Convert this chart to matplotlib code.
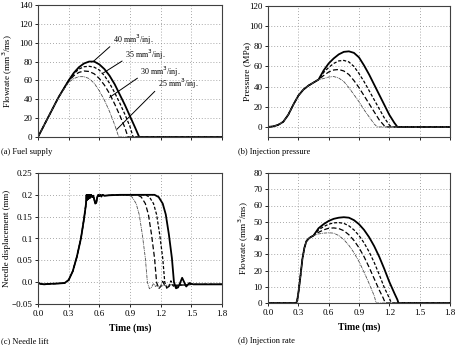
import matplotlib
matplotlib.use("Agg")
import matplotlib.pyplot as plt

plt.rcParams['font.family'] = ['Liberation Serif', 'DejaVu Serif']
plt.rcParams['font.size'] = 6

labels = ['40', '35', '30', '25']

# (a) fuel supply flowrate (mm3/ms)
fuel_t = {
    '40': [0, 0.1, 0.2, 0.3, 0.35, 0.4, 0.45, 0.5, 0.55, 0.6, 0.65, 0.7, 0.75, 0.8, 0.85, 0.9, 0.95, 0.99, 1.8],
    '35': [0, 0.1, 0.2, 0.3, 0.35, 0.4, 0.45, 0.5, 0.55, 0.6, 0.65, 0.7, 0.75, 0.8, 0.85, 0.9, 0.93, 1.8],
    '30': [0, 0.1, 0.2, 0.3, 0.35, 0.4, 0.45, 0.5, 0.55, 0.6, 0.65, 0.7, 0.75, 0.8, 0.85, 0.88, 1.8],
    '25': [0, 0.1, 0.2, 0.3, 0.35, 0.4, 0.45, 0.5, 0.55, 0.6, 0.65, 0.7, 0.75, 0.79, 1.8],
}
fuel_q = {
    '40': [0, 21, 42, 60, 68, 74, 78, 80, 80, 77, 72, 65, 56, 45, 34, 22, 10, 0, 0],
    '35': [0, 21, 42, 60, 67, 72, 74.5, 75, 74, 71, 65, 57, 47, 36, 24, 11, 0, 0],
    '30': [0, 21, 42, 59, 65, 68.5, 70, 69.5, 67, 62, 55, 46, 35, 23, 10, 0, 0],
    '25': [0, 21, 42, 58, 62, 64, 64, 62, 57, 49, 39, 27, 13, 0, 0],
}

# (b) injection pressure (MPa)
pres_common_t = [0, 0.05, 0.1, 0.15, 0.2, 0.25, 0.3, 0.35, 0.4, 0.45, 0.5]
pres_common_p = [0, 0.5, 2, 5, 12, 22, 31, 37, 41, 44, 47]
pres_t = {
    '40': [0.55, 0.6, 0.65, 0.7, 0.75, 0.8, 0.85, 0.9, 0.95, 1.0, 1.05, 1.1, 1.15, 1.2, 1.25, 1.28, 1.8],
    '35': [0.55, 0.6, 0.65, 0.7, 0.75, 0.8, 0.85, 0.9, 0.95, 1.0, 1.05, 1.1, 1.15, 1.2, 1.22, 1.8],
    '30': [0.55, 0.6, 0.65, 0.7, 0.75, 0.8, 0.85, 0.9, 0.95, 1.0, 1.05, 1.1, 1.16, 1.8],
    '25': [0.55, 0.6, 0.65, 0.7, 0.75, 0.8, 0.85, 0.9, 0.95, 1.0, 1.05, 1.08, 1.8],
}
pres_p = {
    '40': [56, 63, 68, 72, 74.5, 75, 73.5, 69, 61, 52, 42, 32, 22, 12, 4, 0, 0],
    '35': [54, 59, 63, 65.5, 66, 64.5, 60, 53, 45, 36, 27, 18, 9, 2, 0, 0],
    '30': [51, 54.5, 56.5, 57, 55.5, 52, 46, 39, 31, 23, 15, 7, 0, 0],
    '25': [48, 49.5, 50, 48.5, 45, 39, 32, 25, 17, 10, 3, 0, 0],
}

# (c) needle displacement (mm)
lift_common_t = [0, 0.03, 0.06, 0.1, 0.2, 0.26, 0.3, 0.34, 0.38, 0.42, 0.45, 0.47, 0.475, 0.48, 0.485,
                 0.49, 0.495, 0.5, 0.505, 0.51, 0.52, 0.53, 0.54, 0.55, 0.56, 0.57, 0.58, 0.59, 0.6,
                 0.61, 0.62, 0.63, 0.65, 0.7, 0.8]
lift_common_h = [-0.002, -0.004, -0.005, -0.004, -0.003, -0.002, 0.005, 0.025, 0.058, 0.1, 0.145, 0.18,
                 0.2, 0.188, 0.2, 0.19, 0.2, 0.192, 0.2, 0.193, 0.2, 0.195, 0.198, 0.19, 0.18, 0.182,
                 0.195, 0.2, 0.197, 0.2, 0.196, 0.2, 0.198, 0.199, 0.2]
lift_t = {
    '40': [1.14, 1.18, 1.22, 1.25, 1.28, 1.31, 1.33, 1.35, 1.37, 1.39, 1.41, 1.43, 1.45, 1.48, 1.52, 1.8],
    '35': [1.05, 1.09, 1.13, 1.16, 1.19, 1.22, 1.24, 1.26, 1.28, 1.3, 1.32, 1.35, 1.38, 1.42, 1.5, 1.8],
    '30': [0.97, 1.01, 1.05, 1.08, 1.11, 1.14, 1.16, 1.18, 1.2, 1.22, 1.24, 1.27, 1.3, 1.35, 1.5, 1.8],
    '25': [0.88, 0.92, 0.96, 0.99, 1.02, 1.05, 1.07, 1.09, 1.11, 1.13, 1.15, 1.17, 1.19, 1.22, 1.3, 1.8],
}
lift_h = {
    '40': [0.2, 0.195, 0.18, 0.155, 0.11, 0.055, 0.0, -0.014, -0.012, -0.002, 0.01, 0.0, -0.01, -0.002, -0.005, -0.005],
    '35': [0.2, 0.195, 0.18, 0.155, 0.11, 0.055, 0.0, -0.014, -0.01, 0.003, -0.008, -0.012, -0.004, -0.007, -0.005, -0.005],
    '30': [0.2, 0.195, 0.18, 0.155, 0.11, 0.055, 0.0, -0.015, -0.01, 0.002, -0.008, -0.012, -0.005, -0.008, -0.005, -0.005],
    '25': [0.2, 0.195, 0.18, 0.155, 0.11, 0.055, 0.0, -0.015, -0.012, -0.003, -0.01, -0.006, -0.012, -0.008, -0.006, -0.005],
}

# (d) injection rate (mm3/ms)
rate_common_t = [0, 0.28, 0.29, 0.3, 0.32, 0.34, 0.36, 0.38, 0.4, 0.42, 0.45]
rate_common_q = [0, 0, 2, 6, 16, 27, 34, 38, 39.5, 40.5, 41.5]
rate_t = {
    '40': [0.5, 0.55, 0.6, 0.65, 0.7, 0.75, 0.8, 0.85, 0.9, 0.95, 1.0, 1.05, 1.1, 1.15, 1.2, 1.25, 1.28, 1.29, 1.8],
    '35': [0.5, 0.55, 0.6, 0.65, 0.7, 0.75, 0.8, 0.85, 0.9, 0.95, 1.0, 1.05, 1.1, 1.15, 1.2, 1.22, 1.8],
    '30': [0.5, 0.55, 0.6, 0.65, 0.7, 0.75, 0.8, 0.85, 0.9, 0.95, 1.0, 1.05, 1.1, 1.14, 1.16, 1.8],
    '25': [0.5, 0.55, 0.6, 0.65, 0.7, 0.75, 0.8, 0.85, 0.9, 0.95, 1.0, 1.05, 1.07, 1.8],
}
rate_q = {
    '40': [46, 48.5, 50.5, 51.8, 52.5, 52.8, 52.5, 51, 48.5, 45, 40.5, 35, 28.5, 21, 13, 6, 2, 0, 0],
    '35': [45, 47, 48.5, 49.3, 49.5, 49, 47.5, 45, 41.5, 37, 31.5, 25, 17.5, 9.5, 3, 0, 0],
    '30': [43.5, 45, 46, 46.2, 45.8, 44.5, 42, 38.5, 34, 28.5, 22, 15, 8, 3, 0, 0],
    '25': [42.5, 43, 43.2, 43, 41.5, 39, 35.5, 31, 25.5, 19, 12, 4.5, 0, 0],
}

styles = {
    '40': dict(color='black', lw=1.3, ls='-'),
    '35': dict(color='black', lw=0.9, ls=(0, (2.5, 1.5))),
    '30': dict(color='black', lw=0.9, ls=(0, (4, 2))),
    '25': dict(color='0.3', lw=0.6, ls=(0, (4, 1, 1, 1))),
}

fig = plt.figure(figsize=(4.55, 3.45), dpi=100)
ax_a = fig.add_axes([38/455, 1 - 137/345, 184/455, 132/345])
ax_b = fig.add_axes([268/455, 1 - 137/345, 182/455, 131/345])
ax_c = fig.add_axes([38/455, 1 - 304/345, 184/455, 131/345])
ax_d = fig.add_axes([268/455, 1 - 303/345, 182/455, 130/345])

for k in labels:
    ax_a.plot(fuel_t[k], fuel_q[k], **styles[k])
    ax_b.plot(pres_common_t + pres_t[k], pres_common_p + pres_p[k], **styles[k])
    if k != '40':
        ax_c.plot(lift_common_t + lift_t[k], lift_common_h + lift_h[k], **styles[k])
    ax_d.plot(rate_common_t + rate_t[k], rate_common_q + rate_q[k], **styles[k])
ax_c.plot(lift_common_t + lift_t['40'], lift_common_h + lift_h['40'], color='black', lw=1.3)

xt = [0, 0.3, 0.6, 0.9, 1.2, 1.5, 1.8]
for ax in (ax_a, ax_b, ax_c, ax_d):
    ax.set_xlim(0, 1.8)
    ax.set_xticks(xt)
    ax.grid(True, color='0.55', ls=(0, (1, 2.5)), lw=0.6)
    ax.tick_params(direction='out', length=2.5, width=0.6, labelsize=6.5, pad=1.5)
    for s in ax.spines.values():
        s.set_linewidth(0.8)
        s.set_color('0.25')

for ax in (ax_a, ax_b):
    ax.set_xticklabels([])
for ax in (ax_c, ax_d):
    ax.set_xticklabels(['0.0', '0.3', '0.6', '0.9', '1.2', '1.5', '1.8'])
    ax.set_xlabel('Time (ms)', fontsize=7, fontweight='bold', labelpad=4)

ax_a.set_ylim(0, 140)
ax_a.set_yticks(range(0, 141, 20))
ax_a.set_ylabel('Flowrate (mm$^3$/ms)', fontsize=6.6)

ax_b.set_ylim(-10, 120)
ax_b.set_yticks(range(0, 121, 20))
ax_b.set_ylabel('Pressure (MPa)', fontsize=6.8)

ax_c.set_ylim(-0.05, 0.25)
ax_c.set_yticks([-0.05, 0, 0.05, 0.1, 0.15, 0.2, 0.25])
ax_c.set_yticklabels(['\u22120.05', '0.0', '0.05', '0.1', '0.15', '0.2', '0.25'])
ax_c.set_ylabel('Needle displacement (mm)', fontsize=6.5)

ax_d.set_ylim(0, 80)
ax_d.set_yticks(range(0, 81, 10))
ax_d.set_ylabel('Flowrate (mm$^3$/ms)', fontsize=6.6)

ax_a.yaxis.set_label_coords(-0.125, 0.5)
ax_c.yaxis.set_label_coords(-0.145, 0.5)
ax_b.yaxis.set_label_coords(-0.095, 0.5)
ax_d.yaxis.set_label_coords(-0.095, 0.5)

# volume labels on (a)
notes = [('40 mm$^3$/inj.', (0.54, 80), (0.73, 103)),
         ('35 mm$^3$/inj.', (0.64, 68), (0.85, 87)),
         ('30 mm$^3$/inj.', (0.70, 42), (1.0, 69)),
         ('25 mm$^3$/inj.', (0.77, 8), (1.17, 56))]
for txt, xy, xytext in notes:
    ax_a.annotate(txt, xy=xy, xytext=xytext, fontsize=5.8, ha='left', va='center',
                  arrowprops=dict(arrowstyle='-', lw=0.7, color='black', shrinkA=0, shrinkB=0,
                                  relpos=(0, 0.2)))

fig.text(1/455, 1 - 152/345, '(a) Fuel supply', fontsize=6, va='center')
fig.text(238/455, 1 - 152/345, '(b) Injection pressure', fontsize=6, va='center')
fig.text(1/455, 1 - 341/345, '(c) Needle lift', fontsize=6, va='center')
fig.text(238/455, 1 - 341/345, '(d) Injection rate', fontsize=6, va='center')

fig.savefig('out.png', dpi=100)
